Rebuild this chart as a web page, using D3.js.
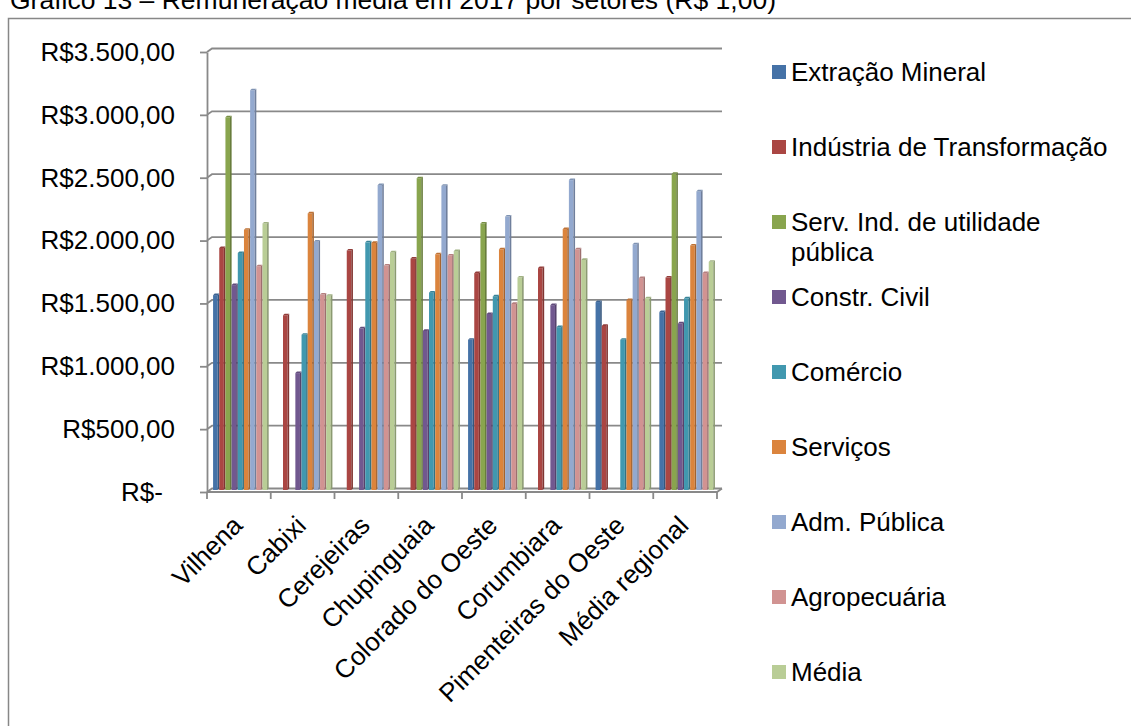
<!DOCTYPE html>
<html lang="pt-BR">
<head>
<meta charset="utf-8">
<title>Remuneração média em 2017 por setores</title>
<script src="https://cdn.jsdelivr.net/npm/d3@7"></script>
<style>
  html, body { margin: 0; padding: 0; background: #fff; }
  svg { display: block; font-family: "Liberation Sans", Arial, sans-serif; }
</style>
</head>
<body>
<svg id="chart" width="1131" height="726"></svg>
<script>
// Municípios (categorias do eixo X)
const categories = ["Vilhena", "Cabixi", "Cerejeiras", "Chupinguaia", "Colorado do Oeste", "Corumbiara", "Pimenteiras do Oeste", "Média regional"];

// Setores (séries)
const sectors = ["Extração Mineral", "Indústria de Transformação", "Serv. Ind. de utilidade pública", "Constr. Civil", "Comércio", "Serviços", "Adm. Pública", "Agropecuária", "Média"];
const sectorColors = ["#4572A7", "#AA4643", "#89A54E", "#71588F", "#4198AF", "#DB843D", "#93A9CF", "#D19392", "#B9CD96"];

// Remuneração média (R$) por setor, na ordem dos municípios
const extracaoMineral        = [1550,    0,    0,    0, 1195,    0, 1495, 1415];
const industriaTransformacao = [1925, 1390, 1905, 1840, 1725, 1765, 1305, 1690];
const servUtilidadePublica   = [2965,    0,    0, 2480, 2120,    0,    0, 2515];
const construcaoCivil        = [1630,  930, 1285, 1265, 1400, 1470,    0, 1325];
const comercio               = [1885, 1235, 1970, 1570, 1540, 1295, 1195, 1525];
const servicos               = [2070, 2200, 1965, 1875, 1915, 2075, 1510, 1945];
const admPublica             = [3180, 1975, 2425, 2420, 2175, 2465, 1955, 2375];
const agropecuaria           = [1780, 1555, 1785, 1865, 1480, 1915, 1685, 1725];
const media                  = [2120, 1545, 1890, 1900, 1690, 1830, 1525, 1815];

const seriesValues = [extracaoMineral, industriaTransformacao, servUtilidadePublica, construcaoCivil,
                      comercio, servicos, admPublica, agropecuaria, media];

// Eixo Y
const yTicks = [0, 500, 1000, 1500, 2000, 2500, 3000, 3500];
const yTickLabels = ["R$-", "R$500,00", "R$1.000,00", "R$1.500,00", "R$2.000,00", "R$2.500,00", "R$3.000,00", "R$3.500,00"];

const titleText = "Gráfico 13 – Remuneração média em 2017 por setores (R$ 1,00)";

const svg = d3.select("#chart");
const gridColor = "#898989";
const fontSize = 26;

// Título (parcialmente fora da área visível, no topo)
svg.append("text")
  .attr("x", 10).attr("y", 9)
  .attr("font-size", 26.5)
  .attr("fill", "#000")
  .text(titleText);

// Moldura da área do gráfico
svg.append("rect")
  .attr("x", 8.5).attr("y", 18.5)
  .attr("width", 1140).attr("height", 730)
  .attr("fill", "none")
  .attr("stroke", "#878787")
  .attr("stroke-width", 1.5);

// Escalas
const plotLeft = 207, plotRight = 717;
const y = d3.scaleLinear().domain([0, 3500]).range([492, 52]);
const x = d3.scaleBand().domain(categories).range([plotLeft, plotRight])
  .paddingInner(0.128).paddingOuter(0.064);
const xs = d3.scaleBand().domain(sectors).range([0, x.bandwidth()]).padding(0);

// Deslocamento de profundidade (efeito 3D)
const depth = { dx: 5, dy: -3.5 };
const barDepth = { dx: 2, dy: -2 };

// Linhas de grade na parede do fundo
const grid = svg.append("g").attr("fill", "none").attr("stroke", gridColor).attr("stroke-width", 1.8);
yTicks.forEach(t => {
  const yy = y(t);
  grid.append("path")
    .attr("d", `M${plotLeft},${yy} L${plotLeft + depth.dx},${yy + depth.dy} L${plotRight + depth.dx},${yy + depth.dy}`);
});
// Piso (linha frontal e conexão lateral direita)
grid.append("path")
  .attr("d", `M${plotLeft},${y(0)} L${plotRight},${y(0)} L${plotRight + depth.dx},${y(0) + depth.dy}`);

// Marcas de divisão das categorias
const step = x.step();
const boundaries = d3.range(categories.length + 1).map(i => plotLeft + i * step);
grid.selectAll("line.cat-tick").data(boundaries).join("line")
  .attr("class", "cat-tick")
  .attr("x1", d => d).attr("x2", d => d)
  .attr("y1", y(0)).attr("y2", y(0) + 7);

// Eixo Y
const yAxis = d3.axisLeft(y)
  .tickValues(yTicks)
  .tickFormat((d, i) => yTickLabels[i])
  .tickSize(7)
  .tickSizeOuter(0)
  .tickPadding(25);
const yAxisG = svg.append("g").attr("transform", `translate(${plotLeft},0)`).call(yAxis);
yAxisG.select(".domain").attr("stroke", gridColor).attr("stroke-width", 1.8);
yAxisG.selectAll(".tick line").attr("stroke", gridColor).attr("stroke-width", 1.8);
yAxisG.selectAll(".tick text")
  .attr("font-size", fontSize)
  .attr("font-family", "'Liberation Sans', Arial, sans-serif")
  .attr("fill", "#000")
  // formato contábil: o traço do zero fica recuado
  .attr("dx", d => d === 0 ? -12 : 0);

// Barras 3D
const bars = svg.append("g").attr("transform", `translate(${barDepth.dx},${barDepth.dy})`);
const d = 1.6;
const barData = [];
categories.forEach((c, ci) => {
  sectors.forEach((s, si) => {
    barData.push({ cat: c, sector: s, value: seriesValues[si][ci], color: sectorColors[si] });
  });
});

const barG = bars.selectAll("g.bar").data(barData.filter(b => b.value > 0)).join("g").attr("class", "bar");
barG.each(function (b) {
  const g = d3.select(this);
  const x0 = x(b.cat) + xs(b.sector);
  const w = xs.bandwidth() - d;
  const y0 = y(b.value);
  const base = y(0);
  const col = d3.color(b.color);
  // face frontal
  g.append("rect")
    .attr("x", x0).attr("y", y0)
    .attr("width", w).attr("height", base - y0)
    .attr("fill", col.formatHex());
  // face lateral
  g.append("polygon")
    .attr("points", [[x0 + w, y0], [x0 + w + d, y0 - d], [x0 + w + d, base - d], [x0 + w, base]].join(" "))
    .attr("fill", col.darker(0.8).formatHex());
  // topo
  g.append("polygon")
    .attr("points", [[x0, y0], [x0 + d, y0 - d], [x0 + w + d, y0 - d], [x0 + w, y0]].join(" "))
    .attr("fill", col.darker(0.4).formatHex());
});

// Rótulos das categorias (girados 45°)
svg.append("g").selectAll("text").data(categories).join("text")
  .attr("transform", c => `translate(${x(c) + x.bandwidth() / 2 - 8},${514}) rotate(-45)`)
  .attr("text-anchor", "end")
  .attr("dy", "0.71em")
  .attr("font-size", fontSize)
  .attr("fill", "#000")
  .text(c => c);

// Legenda
const legend = svg.append("g");
const legendX = 772, legendY0 = 72, legendStep = 75, maxTextWidth = 334;
sectors.forEach((s, i) => {
  const cy = legendY0 + i * legendStep;
  legend.append("rect")
    .attr("x", legendX).attr("y", cy - 7)
    .attr("width", 14).attr("height", 14)
    .attr("fill", sectorColors[i]);
  const t = legend.append("text")
    .attr("x", legendX + 19).attr("y", cy + 9)
    .attr("font-size", fontSize)
    .attr("fill", "#000");
  // quebra de linha por largura
  const words = s.split(" ");
  let line = [];
  let tspan = t.append("tspan").attr("x", legendX + 19).attr("dy", 0);
  words.forEach(wd => {
    line.push(wd);
    tspan.text(line.join(" "));
    if (tspan.node().getComputedTextLength() > maxTextWidth && line.length > 1) {
      line.pop();
      tspan.text(line.join(" "));
      line = [wd];
      tspan = t.append("tspan").attr("x", legendX + 19).attr("dy", 30).text(wd);
    }
  });
});
</script>
</body>
</html>
